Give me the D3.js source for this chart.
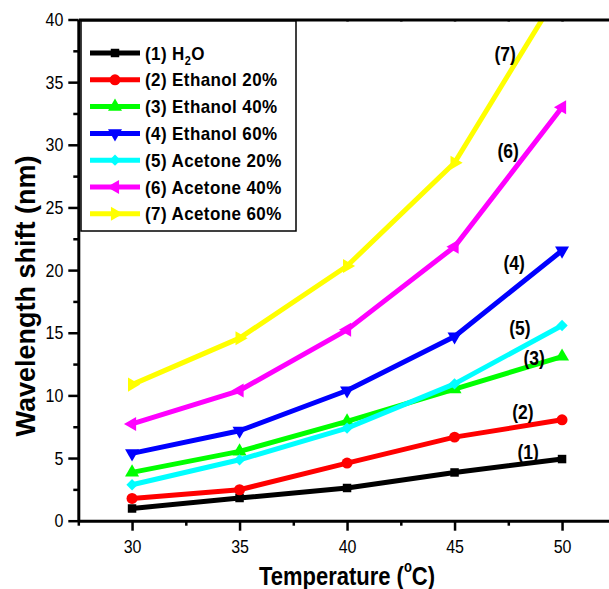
<!DOCTYPE html>
<html>
<head>
<meta charset="utf-8">
<script src="https://cdn.jsdelivr.net/npm/d3@7"></script>
<style>
  body { margin: 0; background: #fff; }
  text { font-family: "Liberation Sans", Arial, sans-serif; }
</style>
</head>
<body>
<div id="app"></div>
<script>
'use strict'

// temperatures (°C) on the x axis
const temps = [30, 35, 40, 45, 50]

// wavelength shift (nm), one array per solvent
const h2o = [0.98, 1.81, 2.61, 3.85, 4.92]
const ethanol20 = [1.78, 2.47, 4.6, 6.67, 8.05]
const ethanol40 = [3.86, 5.53, 7.92, 10.5, 13.1]
const ethanol60 = [5.37, 7.18, 10.39, 14.7, 21.56]
const acetone20 = [2.87, 4.86, 7.39, 10.92, 15.58]
const acetone40 = [7.72, 10.39, 15.23, 21.87, 32.99]
const acetone60 = [10.86, 14.57, 20.33, 28.57, 42.6]

const seriesLabels = ['(1) H', '(2) Ethanol 20%', '(3) Ethanol 40%', '(4) Ethanol 60%',
  '(5) Acetone 20%', '(6) Acetone 40%', '(7) Acetone 60%']
const curveTags = ['(1)', '(2)', '(3)', '(4)', '(5)', '(6)', '(7)']

const xTicks = [30, 35, 40, 45, 50]
const xMinor = [27.5, 32.5, 37.5, 42.5, 47.5, 52.5]
const yTicks = [0, 5, 10, 15, 20, 25, 30, 35, 40]
const yMinor = [2.5, 7.5, 12.5, 17.5, 22.5, 27.5, 32.5, 37.5]

// where the (n) tags sit, in data units
const tagX = [48.42, 48.18, 48.7, 47.77, 48.04, 47.49, 47.35]
const tagY = [5.48, 8.67, 12.97, 20.55, 15.37, 29.5, 37.3]

const colors = ['#000000', '#ff0000', '#00ff00', '#0000ff', '#00ffff', '#ff00ff', '#ffff00']

const allSeries = [h2o, ethanol20, ethanol40, ethanol60, acetone20, acetone40, acetone60]

// marker shapes: square, circle, up, down, diamond, left, right
const markers = [
  { type: d3.symbolSquare, size: 72, rot: 0 },
  { type: d3.symbolCircle, size: 95, rot: 0 },
  { type: d3.symbolTriangle, size: 85, rot: 0 },
  { type: d3.symbolTriangle, size: 85, rot: 180 },
  { type: d3.symbolSquare, size: 64, rot: 45 },
  { type: d3.symbolTriangle, size: 85, rot: -90 },
  { type: d3.symbolTriangle, size: 85, rot: 90 }
]

const W = 609, H = 589
const pL = 78.3, pR = 615.8, pT = 19.5, pB = 520.7

const x = d3.scaleLinear().domain([27.5, 52.5]).range([pL, pR])
const y = d3.scaleLinear().domain([0, 40]).range([pB, pT])

const svg = d3.select('#app').append('svg')
  .attr('width', W)
  .attr('height', H)

svg.append('defs').append('clipPath')
  .attr('id', 'plot')
  .append('rect')
  .attr('x', pL).attr('y', pT)
  .attr('width', pR - pL).attr('height', pB - pT)

/*
 * Series lines and markers
 */
const line = d3.line()
  .x((d, i) => x(temps[i]))
  .y(d => y(d))

const plot = svg.append('g').attr('clip-path', 'url(#plot)')

allSeries.forEach((vals, s) => {
  const g = plot.append('g')
  g.append('path')
    .datum(vals)
    .attr('d', line)
    .attr('fill', 'none')
    .attr('stroke', colors[s])
    .attr('stroke-width', 5)
    .attr('stroke-linejoin', 'round')
  const sym = d3.symbol().type(markers[s].type).size(markers[s].size)
  g.selectAll('path.m')
    .data(vals)
    .enter().append('path')
    .attr('class', 'm')
    .attr('d', sym)
    .attr('fill', colors[s])
    .attr('transform', (d, i) => `translate(${x(temps[i])},${y(d)}) rotate(${markers[s].rot})`)
})

/*
 * Axes
 */
const styleAxis = g => {
  g.select('.domain').attr('stroke-width', 3)
  g.selectAll('.tick line').attr('stroke-width', 2.5)
}

const xAxis = svg.append('g')
  .attr('transform', `translate(0,${pB})`)
  .call(d3.axisBottom(x).tickValues(xTicks).tickSize(10).tickSizeOuter(0))
  .call(styleAxis)
xAxis.selectAll('text')
  .attr('font-size', 16)
  .attr('fill', '#000')
  .attr('y', 28)
  .attr('dy', 0)
  .attr('transform', 'scale(1,1.16)')

svg.append('g')
  .attr('transform', `translate(0,${pB})`)
  .call(d3.axisBottom(x).tickValues(xMinor).tickSize(5).tickFormat(''))
  .call(g => g.select('.domain').remove())
  .selectAll('.tick line').attr('stroke-width', 2.5)

const yAxis = svg.append('g')
  .attr('transform', `translate(${pL},0)`)
  .call(d3.axisLeft(y).tickValues(yTicks).tickSize(10).tickSizeOuter(0))
  .call(styleAxis)
yAxis.selectAll('text')
  .attr('font-size', 16)
  .attr('fill', '#000')
  .attr('x', -15)
  .attr('dy', '0.33em')
  .attr('transform', 'scale(1,1.16)')

svg.append('g')
  .attr('transform', `translate(${pL},0)`)
  .call(d3.axisLeft(y).tickValues(yMinor).tickSize(5).tickFormat(''))
  .call(g => g.select('.domain').remove())
  .selectAll('.tick line').attr('stroke-width', 2.5)

// top frame with small inward ticks
svg.append('g')
  .attr('transform', `translate(0,${pT})`)
  .call(d3.axisTop(x).tickValues(xTicks.concat(xMinor)).tickSize(-2).tickSizeOuter(0).tickFormat(''))
  .call(styleAxis)

/*
 * Axis titles
 */
const xt = svg.append('text')
  .attr('transform', 'translate(347,585) scale(1,1.2)')
  .attr('text-anchor', 'middle')
  .attr('font-size', 22)
  .attr('font-weight', 'bold')
xt.append('tspan').text('Temperature (')
xt.append('tspan').attr('font-size', 13).attr('dy', -11).text('o')
xt.append('tspan').attr('dy', 11).text('C)')

svg.append('text')
  .attr('transform', 'translate(35,296) rotate(-90)')
  .attr('text-anchor', 'middle')
  .attr('font-size', 27)
  .attr('font-weight', 'bold')
  .text('Wavelength shift (nm)')

/*
 * Curve tags
 */
svg.selectAll('.tag')
  .data(curveTags)
  .enter().append('text')
  .attr('class', 'tag')
  .attr('transform', (d, i) => `translate(${x(tagX[i])},${y(tagY[i])}) scale(1,1.15)`)
  .attr('dy', '0.36em')
  .attr('text-anchor', 'middle')
  .attr('font-size', 17.5)
  .attr('font-weight', 'bold')
  .text(d => d)

/*
 * Legend
 */
const legend = svg.append('g')
legend.append('rect')
  .attr('x', 81).attr('y', 21)
  .attr('width', 215).attr('height', 210)
  .attr('fill', '#fff')
  .attr('stroke', '#000')
  .attr('stroke-width', 1.5)

seriesLabels.forEach((lab, s) => {
  const ly = 53 + s * 26.8
  const row = legend.append('g')
  row.append('line')
    .attr('x1', 90).attr('x2', 140)
    .attr('y1', ly).attr('y2', ly)
    .attr('stroke', colors[s])
    .attr('stroke-width', 5)
  row.append('path')
    .attr('d', d3.symbol().type(markers[s].type).size(markers[s].size))
    .attr('fill', colors[s])
    .attr('transform', `translate(115,${ly}) rotate(${markers[s].rot})`)
  const t = row.append('text')
    .attr('transform', `translate(145,${ly + 6.5}) scale(1,1.08)`)
    .attr('font-size', 17)
    .attr('font-weight', 'bold')
    .attr('letter-spacing', 0.4)
    .text(lab)
  if (s === 0) {
    t.append('tspan').attr('font-size', 11).attr('dy', 5).text('2')
    t.append('tspan').attr('dy', -5).text('O')
  }
})
</script>
</body>
</html>
